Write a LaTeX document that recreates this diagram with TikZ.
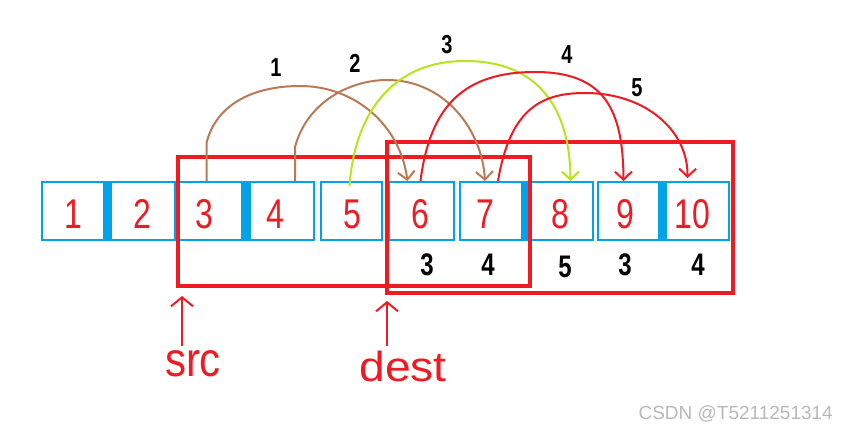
\documentclass[tikz,border=0pt]{standalone}
\usepackage{fontspec}
\setmainfont{Liberation Sans}
\usetikzlibrary{arrows.meta,calc}
\definecolor{pred}{HTML}{ED1C24}
\definecolor{pblue}{HTML}{00A2E8}
\definecolor{pbrown}{HTML}{B97A57}
\definecolor{pgreen}{HTML}{B5E61D}
\newcommand{\tallnum}[1]{\scalebox{1}[1.3]{#1}}
\begin{document}
\begin{tikzpicture}[x=1pt,y=-1pt,
 cell/.style={draw=pblue, line width=2pt, minimum height=58pt, inner sep=0pt},
 dig/.style={text=pred, font=\fontsize{32}{32}\selectfont, inner sep=0pt},
 cnt/.style={text=black, font=\fontsize{24}{24}\selectfont\bfseries, inner sep=0pt},
 tag/.style={text=black, font=\fontsize{20}{20}\selectfont\bfseries, inner sep=0pt},
 win/.style={draw=pred, line width=4pt, inner sep=0pt},
 hop/.style={line width=2pt, -{Straight Barb[length=8pt,width=17pt]}},
 ptr/.style={draw=pred, line width=2pt, -{Straight Barb[length=9pt,width=22pt]}},
 word/.style={text=pred, font=\fontsize{42}{42}\selectfont, inner sep=0pt}
]
\useasboundingbox (0,0) rectangle (848,431);
\fill[white] (0,0) rectangle (848,431);
% cells
\node[cell, minimum width=62pt] (c1) at (73,211) {};
\node[cell, minimum width=64pt] (c2) at (143,211) {};
\node[cell, minimum width=63pt] (c3) at (210.5,211) {};
\node[cell, minimum width=64pt] (c4) at (282,211) {};
\node[cell, minimum width=61pt] (c5) at (351.5,211) {};
\node[cell, minimum width=65pt] (c6) at (421.5,211) {};
\node[cell, minimum width=62pt] (c7) at (491,211) {};
\node[cell, minimum width=65pt] (c8) at (560.5,211) {};
\node[cell, minimum width=61pt] (c9) at (628.5,211) {};
\node[cell, minimum width=63pt] (c10) at (697.5,211) {};
\fill[pblue] (c1.north east) rectangle (c2.south west);
\fill[pblue] (c3.north east) rectangle (c4.south west);
\fill[pblue] (c7.north east) rectangle (c8.south west);
\fill[pblue] (c9.north east) rectangle (c10.south west);
% digits
\node[dig] (d1) at (73,214) {\tallnum{1}};
\node[dig] (d2) at (142,214) {\tallnum{2}};
\node[dig] (d3) at (204,214) {\tallnum{3}};
\node[dig] (d4) at (275,214) {\tallnum{4}};
\node[dig] (d5) at (352,214) {\tallnum{5}};
\node[dig] (d6) at (420,214) {\tallnum{6}};
\node[dig] (d7) at (485,214) {\tallnum{7}};
\node[dig] (d8) at (560,214) {\tallnum{8}};
\node[dig] (d9) at (625,214) {\tallnum{9}};
\node[dig] (d10) at (692,214) {\tallnum{10}};
% counts
\node[cnt] (n6) at (427,265) {\tallnum{3}};
\node[cnt] (n7) at (488,265) {\tallnum{4}};
\node[cnt] (n8) at (565,267) {\tallnum{5}};
\node[cnt] (n9) at (625,265) {\tallnum{3}};
\node[cnt] (n10) at (698,265) {\tallnum{4}};
% windows
\node[win, minimum width=352pt, minimum height=129pt] (srcwin) at (354,221.5) {};
\node[win, minimum width=346pt, minimum height=151pt] (destwin) at (560,217.5) {};
% pointers
\coordinate (srctip) at (182,296);
\coordinate (srctail) at (182,346);
\coordinate (desttip) at (387,301);
\coordinate (desttail) at (387,346);
\draw[ptr] (srctail) -- (srctip);
\draw[ptr] (desttail) -- (desttip);
\node[word] (srctxt) at (193,364) {\scalebox{1}[1.15]{src}};
\node[word] (desttxt) at (403,366) {\scalebox{1.1}[1]{dest}};
% arc labels
\node[tag] (t1) at (276,68) {\tallnum{1}};
\node[tag] (t2) at (355,63) {\tallnum{2}};
\node[tag] (t3) at (447,45) {\tallnum{3}};
\node[tag] (t4) at (567,55) {\tallnum{4}};
\node[tag] (t5) at (637,88) {\tallnum{5}};
% arcs
\coordinate (a1s) at ($(c3.north)+(-4,0)$);
\coordinate (a1e) at ($(c6.north)+(-14,0)$);
\coordinate (a2s) at ($(c4.north)+(13,0)$);
\coordinate (a2e) at ($(c7.north)+(-6,0)$);
\coordinate (a3s) at ($(c5.north)+(-2,5)$);
\coordinate (a3e) at ($(c8.north)+(10,0)$);
\coordinate (a4s) at ($(c6.north)+(-1,0)$);
\coordinate (a4e) at ($(c9.north)+(-5,0)$);
\coordinate (a5s) at ($(c7.north)+(7,0)$);
\coordinate (a5e) at ($(c10.north)+(-10,-3)$);
\draw[hop, pbrown] (a1s) -- ++(0,-38) .. controls +(10,-40) and (255,86) .. (300,86) .. controls (355,86) and (400,125) .. (a1e);
\draw[hop, pbrown] (a2s) -- ++(0,-34) .. controls +(12,-45) and (350,80) .. (387,80) .. controls (445,80) and (482,130) .. (a2e);
\draw[hop, pgreen] (a3s) .. controls (355,110) and (395,61) .. (465,61) .. controls (540,61) and (570,110) .. (a3e);
\draw[hop, pred] (a4s) .. controls (430,105) and (465,72) .. (535,72) .. controls (605,72) and (623,110) .. (a4e);
\draw[hop, pred] (a5s) .. controls (510,110) and (540,93) .. (585,93) .. controls (645,93) and (688,130) .. (a5e);
% watermark
\node[text=gray!55, font=\fontsize{19}{19}\selectfont, anchor=east, inner sep=0pt] (wm) at (833,414) {CSDN @T5211251314};
\end{tikzpicture}
\end{document}
